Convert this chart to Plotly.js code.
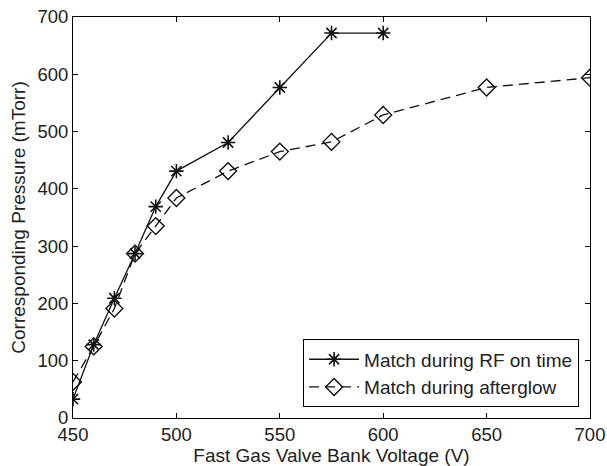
<!DOCTYPE html>
<html>
<head>
<script src="https://cdn.plot.ly/plotly-3.0.1.min.js"></script>
<style>html,body{margin:0;padding:0;background:#fff;}#chart{width:607px;height:466px;}</style>
</head>
<body>
<div id="chart"></div>
<script>
var voltageRF = [450, 460, 470, 480, 490, 500, 525, 550, 575, 600];
var pressureRF = [33, 128, 209, 287, 369, 431, 481, 577, 672, 672];
var voltageAG = [450, 460, 470, 480, 490, 500, 525, 550, 575, 600, 650, 700];
var pressureAG = [63, 125, 191, 287, 335, 384, 431, 465, 482, 529, 577, 594];
var xTicks = [450, 500, 550, 600, 650, 700];
var yTicks = [0, 100, 200, 300, 400, 500, 600, 700];

var FONT = 'Liberation Sans, Arial, Helvetica, sans-serif';

var traces = [
  {x: voltageRF, y: pressureRF, name: 'Match during RF on time', mode: 'lines+markers',
   line: {color: '#111', width: 1.3},
   marker: {symbol: 'asterisk-open', size: 12, color: '#111', line: {color: '#111', width: 1.6}}},
  {x: voltageAG, y: pressureAG, name: 'Match during afterglow', mode: 'lines+markers',
   line: {color: '#111', width: 1.3, dash: '10px,6px'},
   marker: {symbol: 'diamond-open', size: 13, color: '#111', line: {color: '#111', width: 1.4}}}
];

var axisCommon = {
  showline: true, linecolor: '#000', linewidth: 1, mirror: 'allticks',
  ticks: 'inside', ticklen: 5, tickcolor: '#000', showgrid: false, zeroline: false,
  tickfont: {family: FONT, size: 18.5, color: '#222'}
};

var layout = {
  width: 607, height: 466,
  margin: {l: 73, r: 17, t: 17, b: 48},
  paper_bgcolor: '#fff', plot_bgcolor: '#fff',
  showlegend: true,
  legend: {x: 0.445, y: 0.196, xanchor: 'left', yanchor: 'top',
    bordercolor: '#000', borderwidth: 1, bgcolor: '#fff',
    font: {family: FONT, size: 19, color: '#222'},
    itemwidth: 50, tracegroupgap: 0},
  xaxis: Object.assign({}, axisCommon, {range: [450, 700], tickvals: xTicks,
    title: {text: 'Fast Gas Valve Bank Voltage (V)', standoff: 2,
      font: {family: FONT, size: 19, color: '#222'}}}),
  yaxis: Object.assign({}, axisCommon, {range: [0, 700], tickvals: yTicks,
    title: {text: 'Corresponding Pressure (mTorr)', standoff: 6,
      font: {family: FONT, size: 19, color: '#222'}}})
};

Plotly.newPlot('chart', traces, layout, {displayModeBar: false, staticPlot: true});
</script>
</body>
</html>
